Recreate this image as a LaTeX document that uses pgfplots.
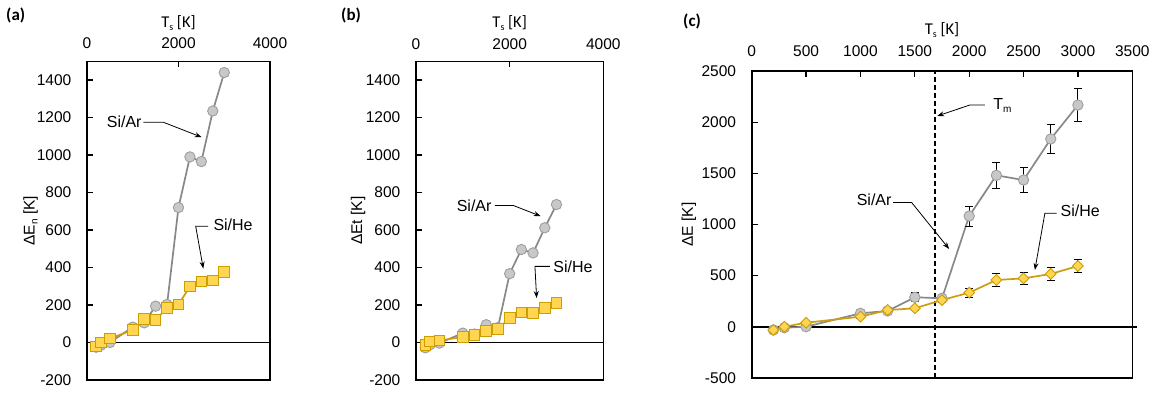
\documentclass[border=0pt]{standalone}
\usepackage{fontspec}
\setmainfont{Liberation Sans}
\newfontfamily\calibri{Carlito}
\usepackage{pgfplots}
\usepackage{pgfplotstable}
\pgfplotsset{compat=1.18}
\usetikzlibrary{arrows.meta}

\definecolor{arfill}{HTML}{C8C8C8}
\definecolor{aredge}{HTML}{9E9E9E}
\definecolor{arline}{HTML}{888888}
\definecolor{hefill}{HTML}{FFD552}
\definecolor{heedge}{HTML}{CC9E00}
\definecolor{heline}{HTML}{CB9E10}

\newcommand\sub[1]{\raisebox{-3pt}{\fontsize{10}{10}\selectfont #1}}

% panel (a): Delta E_n
\pgfplotstableread{
x    ar    he
200  -25   -20
300  -15   0
500  0     22
1000 82    66
1250 105   125
1500 194   120
1750 203   185
2000 720   203
2250 990   298
2500 965   325
2750 1235  330
3000 1440  376
}\tabA

% panel (b): Delta Et
\pgfplotstableread{
x    ar    he
200  -28   -12
300  -12   5
500  -3    11
1000 50    29
1250 45    41
1500 95    63
1750 80    72
2000 367   130
2250 496   160
2500 478   157
2750 612   184
3000 736   211
}\tabB

% panel (c): Delta E with standard deviations
\pgfplotstableread{
x    ar    are  he   hee
200  -32   15   -32  10
300  -10   15   0    10
500  0     15   39   10
1000 131   30   98   15
1250 154   30   163  15
1500 288   44   180  20
1750 278   30   261  25
2000 1083  98   333  44
2250 1481  127  457  60
2500 1435  122  473  56
2750 1837  143  516  60
3000 2169  165  594  62
}\tabC

\tikzset{
  annot/.style={black, line width=0.8pt, -{Stealth[length=7pt,width=5pt]}},
  note/.style={inner sep=0pt, font=\fontsize{16}{18}\selectfont},
}

\pgfplotsset{
  panel/.style={
    scale only axis, clip=false,
    axis line style={black, line width=1.6pt},
    tick align=inside,
    xtick pos=right, xticklabel pos=right,
    ytick pos=left, yticklabel pos=left,
    major tick length=6pt,
    tick style={black, line width=1.2pt},
    font=\fontsize{15.5}{18}\selectfont,
    /pgf/number format/assume math mode=true,
    /pgf/number format/1000 sep={},
    yticklabel style={anchor=east, inner sep=0pt, xshift=-15.5pt},
    xticklabel style={anchor=south, inner sep=0pt},
    xlabel style={at={(axis description cs:0.5,1)}, anchor=base, inner sep=0pt,
      font=\calibri\fontsize{16.5}{18}\selectfont},
    ylabel style={anchor=center, inner sep=0pt},
  },
  ar/.style={draw=arline, line width=1.7pt, mark=*, mark size=5.2pt,
    mark options={fill=arfill, draw=aredge, line width=0.9pt}},
  he/.style={draw=heline, line width=1.7pt, mark=square*, mark size=5.3pt,
    mark options={fill=hefill, draw=heedge, line width=0.9pt}},
  hed/.style={draw=heline, line width=1.7pt, mark=square*, mark size=3.8pt,
    mark options={fill=hefill, draw=heedge, line width=0.9pt, rotate=45}},
  zero/.style={black, line width=1.8pt, forget plot},
}

\begin{document}
\begin{tikzpicture}
\useasboundingbox (0,0) rectangle (1156pt,392pt);

\node[anchor=west, inner sep=0pt, font=\calibri\bfseries\fontsize{17}{18}\selectfont] at (6pt,377pt) {(a)};
\node[anchor=west, inner sep=0pt, font=\calibri\bfseries\fontsize{17}{18}\selectfont] at (341pt,377pt) {(b)};
\node[anchor=west, inner sep=0pt, font=\calibri\bfseries\fontsize{17}{18}\selectfont] at (683pt,370.5pt) {(c)};

% ---------- (a) ----------
\begin{axis}[panel, at={(87pt,12pt)}, anchor=south west,
  width=183pt, height=318.7pt,
  xmin=0, xmax=4000, ymin=-200, ymax=1500,
  xtick={0,2000,4000}, ytick={-200,0,200,...,1400},
  xticklabel style={yshift=12pt},
  xlabel={T\sub{s} [K]}, xlabel style={yshift=34pt},
  ylabel={ΔE\sub{n} [K]}, ylabel style={at={(axis description cs:-0.3077,0.5)}}]
  \addplot[zero] coordinates {(0,0) (4000,0)};
  \addplot[ar] table[x=x, y=ar] {\tabA};
  \addplot[he] table[x=x, y=he] {\tabA};
  \node[note, anchor=east] at (axis cs:1196,1175) {Si/Ar};
  \draw[annot] (axis cs:1231,1175) -- (axis cs:1668,1175) -- (axis cs:2507,1095);
  \node[note, anchor=west] at (axis cs:2761,626) {Si/He};
  \draw[annot] (axis cs:2645,620) -- (axis cs:2376,620) -- (axis cs:2542,394);
\end{axis}

% ---------- (b) ----------
\begin{axis}[panel, at={(416pt,12pt)}, anchor=south west,
  width=187.3pt, height=318.7pt,
  xmin=0, xmax=4000, ymin=-200, ymax=1500,
  xtick={0,2000,4000}, ytick={-200,0,200,...,1400},
  xticklabel style={yshift=11.5pt},
  xlabel={T\sub{s} [K]}, xlabel style={yshift=34pt},
  ylabel={ΔEt [K]}, ylabel style={at={(axis description cs:-0.3086,0.5)}}]
  \addplot[zero] coordinates {(0,0) (4000,0)};
  \addplot[ar] table[x=x, y=ar] {\tabB};
  \addplot[he] table[x=x, y=he] {\tabB};
  \node[note, anchor=east] at (axis cs:1616,731) {Si/Ar};
  \draw[annot] (axis cs:1686,731) -- (axis cs:2077,731) -- (axis cs:2662,674);
  \node[note, anchor=west] at (axis cs:2931,406) {Si/He};
  \draw[annot] (axis cs:2860,406) -- (axis cs:2540,406) -- (axis cs:2576,237);
\end{axis}

% ---------- (c) ----------
\begin{axis}[panel, at={(751.7pt,14.2pt)}, anchor=south west,
  width=380.6pt, height=306.6pt,
  xmin=0, xmax=3500, ymin=-500, ymax=2500,
  xtick={0,500,...,3500}, ytick={-500,0,...,2500},
  xticklabel style={yshift=14pt},
  xlabel={T\sub{s} [K]}, xlabel style={yshift=37pt},
  ylabel={ΔE [K]}, ylabel style={at={(axis description cs:-0.165,0.5)}}]
  \addplot[zero] coordinates {(0,0) (3540,0)};
  \addplot[black, line width=1.6pt, dash pattern=on 5pt off 3pt, forget plot]
    coordinates {(1687,-500) (1687,2500)};
  \addplot[ar, error bars/.cd, y dir=both, y explicit,
    error bar style={black, line width=0.9pt},
    error mark options={black, rotate=90, mark size=4pt, line width=0.9pt}]
    table[x=x, y=ar, y error=are] {\tabC};
  \addplot[hed, error bars/.cd, y dir=both, y explicit,
    error bar style={black, line width=0.9pt},
    error mark options={black, rotate=90, mark size=4pt, line width=0.9pt}]
    table[x=x, y=he, y error=hee] {\tabC};
  \node[note, anchor=west] at (axis cs:2221,2169) {T\sub{m}};
  \draw[annot] (axis cs:2144,2169) -- (axis cs:2006,2169) -- (axis cs:1706,2062);
  \node[note, anchor=east] at (axis cs:1287,1245) {Si/Ar};
  \draw[annot] (axis cs:1301,1215) -- (axis cs:1471,1215) -- (axis cs:1816,760);
  \node[note, anchor=west] at (axis cs:2840,1135) {Si/He};
  \draw[annot] (axis cs:2803,1110) -- (axis cs:2696,1110) -- (axis cs:2604,555);
\end{axis}
\end{tikzpicture}
\end{document}
